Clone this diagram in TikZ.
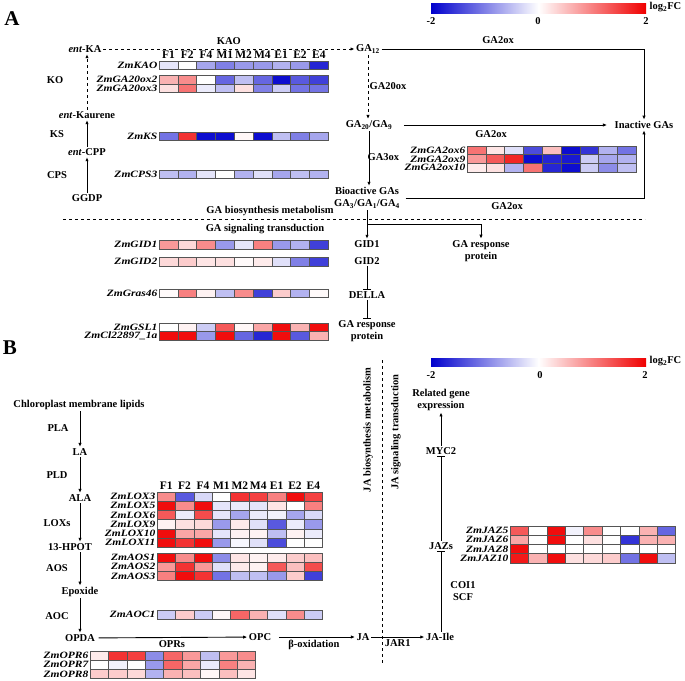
\documentclass[tikz,border=0pt]{standalone}
\usepackage{fontspec}
\setmainfont{Liberation Serif}
\usepackage{tikz}
\usetikzlibrary{arrows.meta,calc}
\definecolor{hmBlue}{RGB}{0,0,205}
\definecolor{hmRed}{RGB}{240,0,0}
\definecolor{hmEdge}{RGB}{85,85,85}

% cell size of the heat maps
\newcommand{\hmW}{18.8}
\newcommand{\hmH}{8.6}
% one heat map row: name, label, x, y (top), values (log2FC in % of 2)
\newcommand{\hmrow}[5]{%
  \node[gene] (#1) at (#3-1.5,#4+\hmH/2) {\scalebox{1}[0.84]{#2}};
  \foreach \v [count=\i from 0] in {#5} {
    \pgfmathtruncatemacro{\a}{abs(\v)}
    \ifnum\v<0 \def\hc{hmBlue}\else\def\hc{hmRed}\fi
    \filldraw[fill=\hc!\a!white, draw=hmEdge, line width=0.5pt]
      (#3+\i*\hmW,#4) rectangle ++(\hmW,\hmH);
  }}
% sample names above a heat map: x, y, prefix
\newcommand{\hmhead}[3]{%
  \foreach \c [count=\i from 0] in {F1,F2,F4,M1,M2,M4,E1,E2,E4}
    \node[hdr] (#3\i) at (#1+\i*\hmW+\hmW/2,#2) {\c};}

\begin{document}
\begin{tikzpicture}[x=1pt,y=-1pt,
  >={Latex[length=4pt,width=3.4pt]},
  lbl/.style={font=\fontsize{10.5}{12}\selectfont\bfseries, inner sep=1.5pt, align=center},
  gene/.style={font=\fontsize{11.5}{11}\selectfont\bfseries\itshape, anchor=east, inner sep=0pt},
  hdr/.style={font=\fontsize{11.5}{11}\selectfont\bfseries, inner sep=0pt},
  flow/.style={line width=0.9pt},
  inhib/.style={line width=0.9pt, -{Bar[width=8pt,line width=0.9pt]}},
  cbar/.style={left color=hmBlue, right color=hmRed, middle color=white},
  panel/.style={font=\fontsize{21}{21}\selectfont\bfseries, inner sep=0pt}]
  \useasboundingbox (0,0) rectangle (685,680);

  % ---------------- Panel A ----------------
  \node[panel] (pA) at (12,19) {A};

  % colour bar
  \shade[cbar] (431,3) rectangle (646,13);
  \node[lbl] (cbAlo) at (431,21) {-2};
  \node[lbl] (cbAmid) at (538,21) {0};
  \node[lbl] (cbAhi) at (646,21) {2};
  \node[lbl, anchor=west] (cbAttl) at (648,7) {log\textsubscript{2}FC};

  % biosynthesis chain on the left
  \node[lbl] (entKA) at (85,49) {\textit{ent}-KA};
  \node[lbl] (entKaur) at (87,115) {\textit{ent}-Kaurene};
  \node[lbl] (entCPP) at (87,152) {\textit{ent}-CPP};
  \node[lbl] (ggdp) at (87,198) {GGDP};
  \node[lbl] (koLbl) at (55,80) {KO};
  \node[lbl] (ksLbl) at (57,134) {KS};
  \node[lbl] (cpsLbl) at (57,175) {CPS};
  \draw[flow,->] (ggdp) -- (entCPP);
  \draw[flow,->] (entCPP) -- (entKaur);
  \draw[flow,dashed,->] (entKaur) -- (entKaur |- entKA.south);

  \node[lbl] (GAtw) at (368,49) {GA\textsubscript{12}};
  \draw[flow,dashed,->] (entKA) -- node[lbl, above=2pt] (kaoLbl) {KAO} (GAtw);

  % heat maps of the biosynthesis genes
  \hmhead{159}{55}{hA}
  \hmrow{gKAO}{ZmKAO}{159}{61}{-10,0,-35,-50,-40,-40,-30,-40,-85}
  \hmrow{gGAtwoA}{ZmGA20ox2}{159}{75.5}{30,45,0,-60,-25,-60,-95,-65,-75}
  \hmrow{gGAtwoB}{ZmGA20ox3}{159}{84.1}{12,55,-8,-25,12,-50,-20,-55,-55}
  \hmrow{gKS}{ZmKS}{159}{132}{-55,80,-95,-95,3,-95,-25,-50,-35}
  \hmrow{gCPS}{ZmCPS3}{159}{170}{-25,-30,-10,0,-30,-12,-35,-25,-30}

  % GA12 to inactive and bioactive GAs
  \node[lbl] (GAtwen) at (369,125) {GA\textsubscript{20}/GA\textsubscript{9}};
  \node[lbl] (inact) at (644,125) {Inactive GAs};
  \node[lbl] (bioGA) at (367,198) {Bioactive GAs\\GA\textsubscript{3}/GA\textsubscript{1}/GA\textsubscript{4}};
  \draw[flow,->] (GAtw.east) -- (GAtw.east -| inact.north) -- (inact.north);
  \node[lbl] (oxA) at (498,40) {GA2ox};
  \draw[flow,dashed,->] (GAtw) -- (GAtw |- GAtwen.north);
  \node[lbl, anchor=west] (ox20) at (368,86) {GA20ox};
  \draw[flow,->,shorten <=10pt,shorten >=6pt] (GAtwen) -- (inact);
  \node[lbl] (oxB) at (491,134) {GA2ox};
  \draw[flow,->] (GAtwen) -- (GAtwen |- bioGA.north);
  \node[lbl, anchor=west] (ox3) at (366,157) {GA3ox};
  \draw[flow,->] ([xshift=4pt]bioGA.east) -- (bioGA.east -| inact.south) -- (inact.south);
  \node[lbl] (oxC) at (507,206) {GA2ox};

  \hmrow{gOxSix}{ZmGA2ox6}{467}{146}{55,10,-12,-70,25,-95,-80,-30,-55}
  \hmrow{gOxNine}{ZmGA2ox9}{467}{154.6}{40,65,85,-95,-85,-90,-20,-35,-30}
  \hmrow{gOxTen}{ZmGA2ox10}{467}{163.2}{8,12,-30,55,-85,-95,-20,-45,-25}

  % metabolism / signalling border
  \coordinate (sepL) at (63,219);
  \coordinate (sepR) at (645,219);
  \draw[flow,dashed] (sepL) -- (sepR);
  \node[lbl] (gaBio) at (270,211) {GA biosynthesis metabolism};
  \node[lbl] (gaSig) at (265,229) {GA signaling transduction};

  % signalling
  \node[lbl] (gid1) at (367,244) {GID1};
  \node[lbl] (gid2) at (367,261) {GID2};
  \node[lbl] (della) at (367,295) {DELLA};
  \node[lbl] (respB) at (367,331) {GA response\\protein};
  \node[lbl] (respA) at (481,251) {GA response\\protein};
  \coordinate (brGA) at (367,224);
  \draw[flow,->] (bioGA) -- (gid1);
  \draw[flow,->] (brGA) -| (respA.north);
  \draw[inhib] (gid2) -- (della);
  \draw[inhib] (della) -- (respB);

  \hmrow{gGIDa}{ZmGID1}{159}{240.5}{40,15,45,-40,-10,50,-40,-30,-75}
  \hmrow{gGIDb}{ZmGID2}{159}{257.5}{15,20,10,12,2,8,-12,-50,-75}
  \hmrow{gGras}{ZmGras46}{159}{289}{2,50,5,-25,45,-75,20,-30,2}
  \hmrow{gGSL}{ZmGSL1}{159}{323}{0,5,-20,65,3,35,95,30,95}
  \hmrow{gCl}{ZmCl22897\_1a}{159}{331.6}{95,95,-40,95,-60,-85,95,-65,30}

  % ---------------- Panel B ----------------
  \renewcommand{\hmW}{18.4}
  \renewcommand{\hmH}{9.2}
  \node[panel] (pB) at (10,348) {B};

  \shade[cbar] (431,358) rectangle (646,366);
  \node[lbl] (cbBlo) at (431,375) {-2};
  \node[lbl] (cbBmid) at (540,375) {0};
  \node[lbl] (cbBhi) at (645,375) {2};
  \node[lbl, anchor=west] (cbBttl) at (648,361) {log\textsubscript{2}FC};

  % JA biosynthesis chain
  \node[lbl] (lipid) at (79,405) {Chloroplast membrane lipids};
  \node[lbl] (la) at (80,452) {LA};
  \node[lbl] (ala) at (80,498) {ALA};
  \node[lbl] (hpot) at (70,547) {13-HPOT};
  \node[lbl] (epox) at (80,592) {Epoxide};
  \node[lbl] (opda) at (80,638) {OPDA};
  \node[lbl] (plaLbl) at (58,428) {PLA};
  \node[lbl] (pldLbl) at (57,475) {PLD};
  \node[lbl] (loxLbl) at (57,523) {LOXs};
  \node[lbl] (aosLbl) at (57,568) {AOS};
  \node[lbl] (aocLbl) at (57,616) {AOC};
  \draw[flow,->] (la |- lipid.south) -- (la);
  \draw[flow,->] (la) -- (ala);
  \draw[flow,->] (ala) -- (ala |- hpot.north);
  \draw[flow,->] (epox |- hpot.south) -- (epox);
  \draw[flow,->] (epox) -- (opda);

  \node[lbl] (opc) at (260,637) {OPC};
  \node[lbl] (ja) at (363,637) {JA};
  \node[lbl] (jaIle) at (440,637) {JA-Ile};
  \draw[flow,->,shorten <=2pt] (opda) -- node[lbl, below=1pt] (oprLbl) {OPRs} (opc);
  \draw[flow,->,shorten <=6pt] (opc) -- node[lbl, below=1pt] (betaLbl) {β-oxidation} (ja);
  \draw[flow,->] (ja) -- node[lbl, below=1pt] (jarLbl) {JAR1} (jaIle);

  % JA signalling
  \node[lbl] (jazs) at (441,546) {JAZs};
  \node[lbl] (myc) at (441,451) {MYC2};
  \node[lbl] (relGene) at (441,400) {Related gene\\expression};
  \node[lbl] (coi) at (463,591) {COI1\\SCF};
  \draw[inhib] (jazs |- jaIle.north) -- (jazs);
  \draw[inhib] (jazs) -- (myc);
  \draw[flow,->] (myc) -- (relGene);

  \coordinate (jaSepT) at (382,360);
  \coordinate (jaSepB) at (382,665);
  \draw[flow,dashed] (jaSepT) -- (jaSepB);
  \node[lbl, rotate=90] (jaBio) at (368,430) {JA biosynthesis metabolism};
  \node[lbl, rotate=90] (jaSig) at (396,432) {JA signaling transduction};

  % heat maps of the JA genes
  \hmhead{157}{486}{hB}
  \hmrow{gLOXc}{ZmLOX3}{157}{492}{45,-65,-15,0,80,75,50,95,75}
  \hmrow{gLOXe}{ZmLOX5}{157}{501.2}{95,45,95,-10,-8,-10,10,0,50}
  \hmrow{gLOXf}{ZmLOX6}{157}{510.4}{65,-8,70,-10,-35,-8,-5,-35,-15}
  \hmrow{gLOXi}{ZmLOX9}{157}{519.6}{5,12,15,-40,8,-12,-65,-8,-40}
  \hmrow{gLOXj}{ZmLOX10}{157}{528.8}{95,35,35,-10,5,5,-25,5,-8}
  \hmrow{gLOXk}{ZmLOX11}{157}{538}{95,80,95,-40,-3,-12,-70,0,0}
  \hmrow{gAOSa}{ZmAOS1}{157}{553}{95,45,95,-45,10,5,8,20,25}
  \hmrow{gAOSb}{ZmAOS2}{157}{562.2}{40,80,40,-12,8,5,65,25,70}
  \hmrow{gAOSc}{ZmAOS3}{157}{571.4}{50,95,80,-55,-25,-25,-40,20,-75}
  \hmrow{gAOC}{ZmAOC1}{157}{610}{-20,20,-20,3,60,30,-12,45,-20}
  \hmrow{gOPRf}{ZmOPR6}{90}{651}{8,80,75,-45,60,40,-25,40,45}
  \hmrow{gOPRg}{ZmOPR7}{90}{660.2}{0,-5,0,-40,60,35,-8,50,30}
  \hmrow{gOPRh}{ZmOPR8}{90}{669.4}{20,20,15,-30,30,25,3,25,10}
  \hmrow{gJAZe}{ZmJAZ5}{510}{526}{65,0,95,-5,45,0,0,30,-60}
  \hmrow{gJAZf}{ZmJAZ6}{510}{535.2}{35,0,95,0,12,0,-80,30,30}
  \hmrow{gJAZh}{ZmJAZ8}{510}{544.4}{95,0,0,0,0,0,0,0,0}
  \hmrow{gJAZj}{ZmJAZ10}{510}{553.6}{90,30,95,12,15,20,-55,95,-25}
\end{tikzpicture}
\end{document}
